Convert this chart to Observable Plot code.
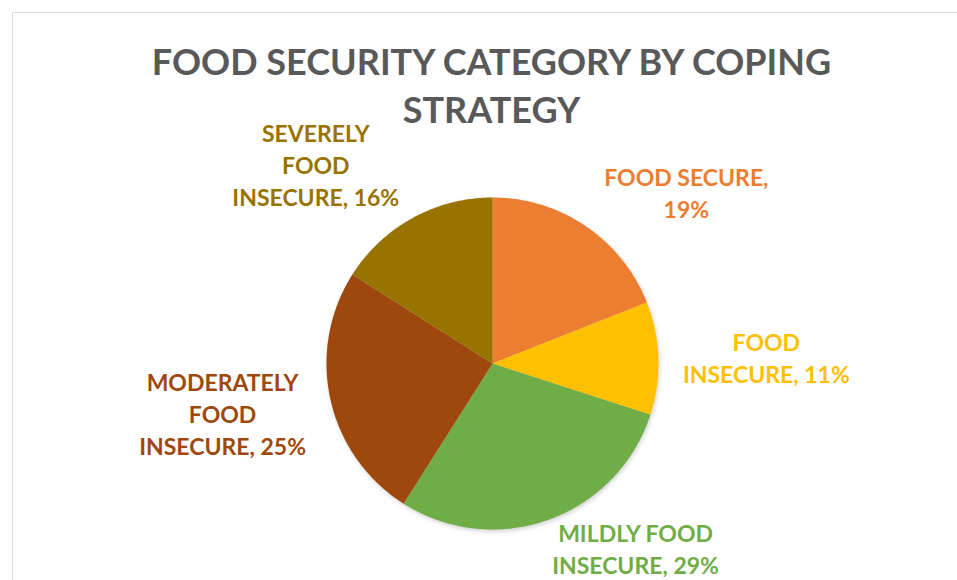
<!DOCTYPE html>
<html>
<head>
<meta charset="utf-8">
<script src="https://cdn.jsdelivr.net/npm/d3@7"></script>
<script src="https://cdn.jsdelivr.net/npm/@observablehq/plot@0.6"></script>
<style>
  html, body { margin: 0; padding: 0; background: #fff; overflow: hidden; }
  #wrap { position: relative; width: 957px; height: 580px; }
  #frame { position: absolute; left: 12px; top: 12px; width: 1000px; height: 700px;
           border-left: 1.5px solid #d9d9d9; border-top: 1.5px solid #d9d9d9; box-sizing: border-box; }
  #title { position: absolute; left: 0; top: 37px; width: 983px; text-align: center;
           font-family: Lato, "Open Sans", sans-serif; font-weight: 700; font-size: 36px;
           line-height: 48px; color: #595959; }
  #chart { position: absolute; left: 0; top: 0; }
  #chart g[aria-label="line"] { filter: drop-shadow(1px 2px 2px rgba(0,0,0,0.18)); }
</style>
</head>
<body>
<div id="wrap">
  <div id="frame"></div>
  <div id="chart"></div>
  <div id="title">FOOD SECURITY CATEGORY BY COPING<br>STRATEGY</div>
</div>
<script>
const categories = ["FOOD SECURE", "FOOD INSECURE", "MILDLY FOOD INSECURE", "MODERATELY FOOD INSECURE", "SEVERELY FOOD INSECURE"];
const shares = [19, 11, 29, 25, 16];
const labelLines = [
  "FOOD SECURE,\n19%",
  "FOOD\nINSECURE, 11%",
  "MILDLY FOOD\nINSECURE, 29%",
  "MODERATELY\nFOOD\nINSECURE, 25%",
  "SEVERELY\nFOOD\nINSECURE, 16%"
];
const colors = ["#ED7D31", "#FFC000", "#70AD47", "#9E480E", "#997300"];

const W = 957, H = 580, cx = 492, cy = 363, R = 166, lineGap = 32;

const pie = d3.pie().sort(null).value(d => d.value);
const arcs = pie(categories.map((c, i) => ({cat: c, value: shares[i], label: labelLines[i]})));

// polygon points (unit circle coords; angle measured clockwise from top)
const pts = [];
arcs.forEach(a => {
  pts.push({cat: a.data.cat, x: 0, y: 0});
  const n = Math.max(8, Math.ceil((a.endAngle - a.startAngle) / 0.01));
  for (let k = 0; k <= n; k++) {
    const t = a.startAngle + (a.endAngle - a.startAngle) * k / n;
    pts.push({cat: a.data.cat, x: Math.sin(t), y: Math.cos(t)});
  }
});

// label placement: outside the pie, kept inside the chart area
const labels = arcs.map(a => {
  const m = (a.startAngle + a.endAngle) / 2;
  const s = Math.sin(m), c = Math.cos(m);
  const lines = a.data.label.split("\n").length;
  let y = c * (1.01 + 0.12 * lines);
  const minY = (cy - (H - 1 - lines * lineGap / 2)) / R; // keep bottom inside
  y = Math.max(y, minY);
  return {cat: a.data.cat, text: a.data.label,
          x: 1.65 * Math.sign(s) * Math.pow(Math.abs(s), 0.6), y};
});

const chart = Plot.plot({
  width: W, height: H,
  margin: 0,
  style: {background: "transparent", overflow: "visible"},
  x: {domain: [-1, 1], range: [cx - R, cx + R], axis: null},
  y: {domain: [-1, 1], range: [cy + R, cy - R], axis: null},
  color: {domain: categories, range: colors},
  marks: [
    Plot.line(pts, {x: "x", y: "y", z: "cat", fill: "cat", stroke: "none", curve: "linear-closed"}),
    Plot.text(labels, {x: "x", y: "y", text: "text", fill: "cat", textAnchor: "middle", lineAnchor: "middle",
      fontSize: 23, fontWeight: 700, fontFamily: "Lato, 'Open Sans', sans-serif", lineHeight: lineGap / 23})
  ]
});
document.getElementById("chart").appendChild(chart);
</script>
</body>
</html>
